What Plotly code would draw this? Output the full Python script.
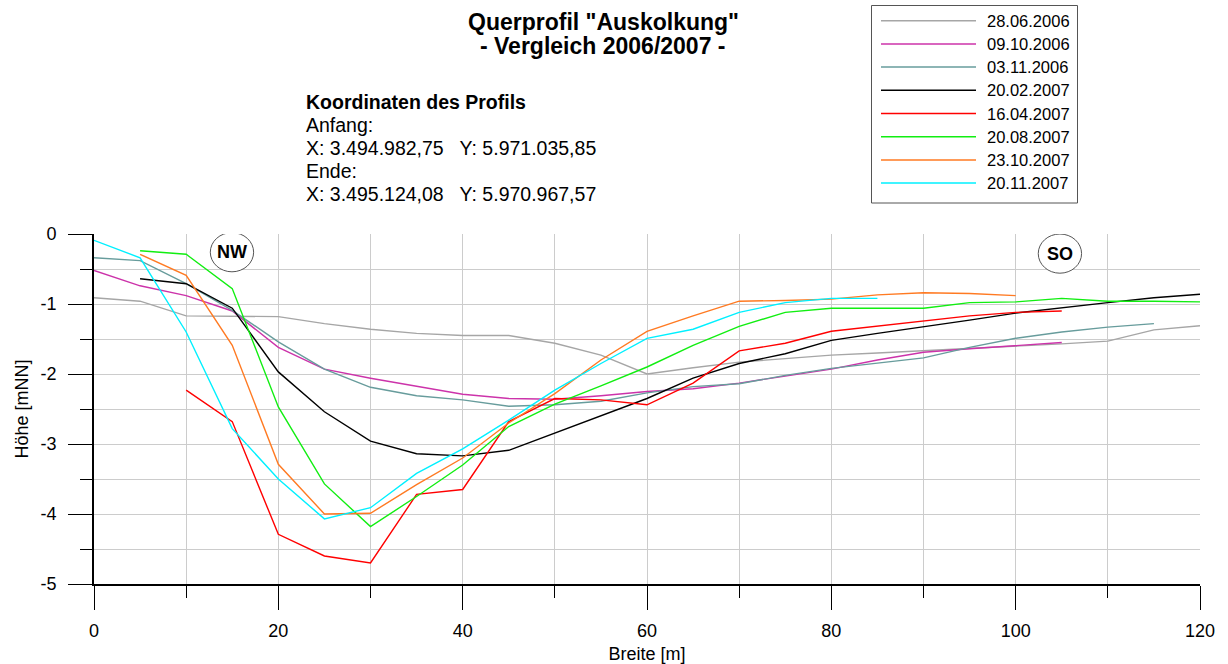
import plotly.graph_objects as go

# ---------------- data ----------------
dates = ["28.06.2006", "09.10.2006", "03.11.2006", "20.02.2007",
         "16.04.2007", "20.08.2007", "23.10.2007", "20.11.2007"]
colors = ["#A6A6A6", "#CC33AA", "#679C9C", "#000000",
          "#FF0000", "#11EE11", "#FF7A22", "#00F0FF"]

x_280606 = list(range(0, 121, 5))
y_280606 = [-0.91, -0.96, -1.17, -1.17, -1.18, -1.28, -1.36, -1.42, -1.45, -1.45,
            -1.56, -1.73, -2.00, -1.91, -1.83, -1.78, -1.73, -1.70, -1.67, -1.64,
            -1.60, -1.57, -1.53, -1.37, -1.31]

x_091006 = list(range(0, 106, 5))
y_091006 = [-0.52, -0.74, -0.88, -1.10, -1.62, -1.93, -2.06, -2.18, -2.29, -2.35,
            -2.36, -2.31, -2.25, -2.21, -2.13, -2.03, -1.93, -1.80, -1.69, -1.64,
            -1.60, -1.55]

x_031106 = list(range(0, 116, 5))
y_031106 = [-0.34, -0.38, -0.71, -1.09, -1.54, -1.93, -2.19, -2.31, -2.37, -2.46,
            -2.44, -2.39, -2.27, -2.18, -2.14, -2.02, -1.92, -1.84, -1.77, -1.62,
            -1.49, -1.40, -1.33, -1.28]

x_200207 = list(range(5, 121, 5))
y_200207 = [-0.64, -0.71, -1.06, -1.97, -2.54, -2.96, -3.14, -3.17, -3.09, -2.84,
            -2.60, -2.35, -2.06, -1.85, -1.71, -1.52, -1.42, -1.33, -1.23, -1.13,
            -1.05, -0.98, -0.91, -0.86]

x_160407 = list(range(10, 106, 5))
y_160407 = [-2.23, -2.68, -4.29, -4.60, -4.70, -3.72, -3.65, -2.68, -2.35, -2.37,
            -2.44, -2.13, -1.67, -1.56, -1.39, -1.32, -1.25, -1.17, -1.12, -1.10]

x_200807 = list(range(5, 121, 5))
y_200807 = [-0.24, -0.29, -0.78, -2.47, -3.57, -4.18, -3.75, -3.30, -2.75, -2.43,
            -2.17, -1.90, -1.59, -1.32, -1.12, -1.06, -1.06, -1.06, -0.98, -0.97,
            -0.92, -0.96, -0.96, -0.97]

x_231007 = list(range(5, 101, 5))
y_231007 = [-0.29, -0.59, -1.59, -3.29, -4.00, -3.99, -3.58, -3.20, -2.70, -2.28,
            -1.80, -1.39, -1.17, -0.96, -0.95, -0.93, -0.87, -0.84, -0.85, -0.88]

x_201107 = list(range(0, 86, 5))
y_201107 = [-0.09, -0.34, -1.40, -2.78, -3.50, -4.07, -3.91, -3.42, -3.07, -2.66,
            -2.23, -1.85, -1.49, -1.36, -1.12, -0.98, -0.92, -0.92]

xs = [x_280606, x_091006, x_031106, x_200207, x_160407, x_200807, x_231007, x_201107]
ys = [y_280606, y_091006, y_031106, y_200207, y_160407, y_200807, y_231007, y_201107]

x_tick_vals = [0, 20, 40, 60, 80, 100, 120]
x_tick_text = ["0", "20", "40", "60", "80", "100", "120"]
y_tick_vals = [0, -1, -2, -3, -4, -5]
y_tick_text = ["0", "-1", "-2", "-3", "-4", "-5"]

title_lines = ['Querprofil "Auskolkung"', '- Vergleich 2006/2007 -']
coord_lines = ["<b>Koordinaten des Profils</b>", "Anfang:",
               "X: 3.494.982,75   Y: 5.971.035,85", "Ende:",
               "X: 3.495.124,08   Y: 5.970.967,57"]
marker_labels = ["NW", "SO"]
marker_x = [14.97, 104.8]
marker_y = [-0.26, -0.28]

FONT = "Liberation Sans, Arial, sans-serif"
W, H = 1228, 664
ML, MR, MT, MB = 94, 28, 234, 80
PW, PH = W - ML - MR, H - MT - MB


def px(xp):
    return (xp - ML) / PW


def py(yp):
    return (H - MB - yp) / PH


fig = go.Figure()
for xv, yv, name, col in zip(xs, ys, dates, colors):
    fig.add_trace(go.Scatter(x=xv, y=yv, mode="lines", name=name,
                             line=dict(color=col, width=1.4), showlegend=False))

shapes = []
annotations = []

# title
for i, t in enumerate(title_lines):
    annotations.append(dict(xref="paper", yref="paper", x=px(603), y=py(22 + i * 24),
                            text="<b>" + t + "</b>", showarrow=False,
                            xanchor="center", yanchor="middle",
                            font=dict(family=FONT, size=23, color="black")))
# coordinates block
for i, t in enumerate(coord_lines):
    annotations.append(dict(xref="paper", yref="paper", x=px(304), y=py(102 + i * 23),
                            text=t, showarrow=False, xanchor="left", yanchor="middle",
                            font=dict(family=FONT, size=19.5, color="black")))

# custom legend box
shapes.append(dict(type="rect", xref="paper", yref="paper",
                   x0=px(871.5), x1=px(1077.5), y0=py(5.5), y1=py(203),
                   line=dict(color="#555555", width=1), fillcolor="white", layer="above"))
for i, (name, col) in enumerate(zip(dates, colors)):
    yy = py(20.7 + i * 23.2)
    shapes.append(dict(type="line", xref="paper", yref="paper",
                       x0=px(881), x1=px(976), y0=yy, y1=yy,
                       line=dict(color=col, width=1.5), layer="above"))
    annotations.append(dict(xref="paper", yref="paper", x=px(985), y=yy, text=name,
                            showarrow=False, xanchor="left", yanchor="middle",
                            font=dict(family=FONT, size=16.5, color="black")))

# NW / SO markers
for lab, mx, my in zip(marker_labels, marker_x, marker_y):
    shapes.append(dict(type="circle", xref="x", yref="y",
                       x0=mx - 2.35, x1=mx + 2.35, y0=my - 0.28, y1=my + 0.28,
                       line=dict(color="#555555", width=1), fillcolor="white"))
    annotations.append(dict(xref="x", yref="y", x=mx, y=my, text="<b>" + lab + "</b>",
                            showarrow=False, xanchor="center", yanchor="middle",
                            font=dict(family=FONT, size=18, color="black")))

fig.update_layout(
    width=W, height=H,
    margin=dict(l=ML, r=MR, t=MT, b=MB, pad=0),
    paper_bgcolor="white", plot_bgcolor="white",
    showlegend=False,
    font=dict(family=FONT, size=18, color="black"),
    shapes=shapes, annotations=annotations,
)

fig.update_xaxes(
    range=[0, 120], autorange=False, automargin=False,
    tickmode="array", tickvals=x_tick_vals, ticktext=x_tick_text,
    ticks="outside", ticklen=24, tickwidth=1.3, tickcolor="black",
    tickfont=dict(family=FONT, size=18, color="black"),
    ticklabelstandoff=6,
    showgrid=True, gridcolor="#CCCCCC", gridwidth=1,
    showline=True, linecolor="black", linewidth=1.6,
    zeroline=False,
    minor=dict(dtick=10, tick0=0, ticks="outside", ticklen=12, tickwidth=1.3,
               tickcolor="black", showgrid=True, gridcolor="#CCCCCC", gridwidth=1),
    title=dict(text="Breite [m]", font=dict(family=FONT, size=18, color="black"), standoff=9),
)
fig.update_yaxes(
    range=[-5, 0], autorange=False, automargin=False,
    tickmode="array", tickvals=y_tick_vals, ticktext=y_tick_text,
    ticks="outside", ticklen=24, tickwidth=1.3, tickcolor="black",
    tickfont=dict(family=FONT, size=18, color="black"),
    ticklabelstandoff=8,
    showgrid=True, gridcolor="#CCCCCC", gridwidth=1,
    showline=True, linecolor="black", linewidth=1.6,
    zeroline=False,
    minor=dict(dtick=0.5, tick0=0, ticks="outside", ticklen=12, tickwidth=1.3,
               tickcolor="black", showgrid=True, gridcolor="#CCCCCC", gridwidth=1),
    title=dict(text="Höhe [mNN]", font=dict(family=FONT, size=18, color="black"), standoff=7),
)

fig.write_html("out.html")
